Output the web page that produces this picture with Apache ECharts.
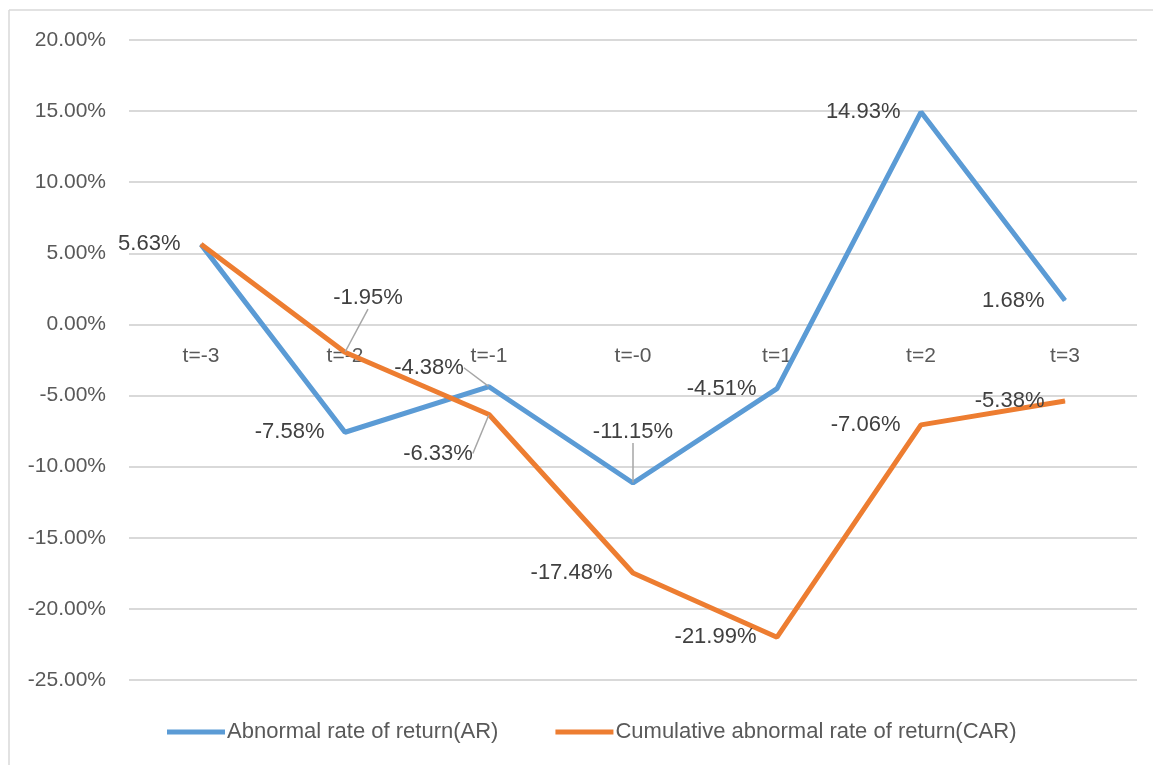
<!DOCTYPE html>
<html>
<head>
<meta charset="utf-8">
<script src="https://cdn.jsdelivr.net/npm/echarts@6/dist/echarts.min.js"></script>
<style>
  html, body { margin: 0; padding: 0; background: #fff; }
  #chart { width: 1153px; height: 765px; }
</style>
</head>
<body>
<div id="chart"></div>
<script>
// 事件窗口
const categories = ['t=-3', 't=-2', 't=-1', 't=-0', 't=1', 't=2', 't=3']
// 异常收益率 AR (%)
const arValues = [5.63, -7.58, -4.38, -11.15, -4.51, 14.93, 1.68]
// 累计异常收益率 CAR (%)
const carValues = [5.63, -1.95, -6.33, -17.48, -21.99, -7.06, -5.38]
const yTicks = { min: -25, max: 20, step: 5 }

// labels moved off the point with a leader line: [dataIndex, dx, dy]
const arMoved = [[2, -60, -19], [3, 0, -51]]
const carMoved = [[1, 23, -54], [2, -51, 39]]

const font = 'Liberation Sans'
const labelColor = '#404040'

const grid = { left: 129, right: 16, top: 40, bottom: 85 }
// category axis sits on the zero line
const plotHeight = 765 - grid.top - grid.bottom
const zeroOffset = -plotHeight * (0 - yTicks.min) / (yTicks.max - yTicks.min)

function buildData(values, moved, hideFirst) {
  return values.map((v, i) => {
    const item = { value: v }
    if (moved.some(m => m[0] === i)) {
      item.label = { position: 'inside' }
      item.labelLine = { show: true }
    }
    if (hideFirst && i === 0) {
      item.label = { show: false }
    }
    return item
  })
}

function layoutFor(moved) {
  return function (params) {
    const m = moved.find(d => d[0] === params.dataIndex)
    if (!m) return {}
    return { dx: m[1], dy: m[2] }
  }
}

const chart = echarts.init(document.getElementById('chart'))

const baseSeries = {
  type: 'line',
  symbol: 'circle',
  symbolSize: 1,
  lineStyle: { width: 5 },
  label: {
    show: true,
    position: 'left',
    distance: 20,
    color: labelColor,
    fontSize: 22,
    fontFamily: font,
    formatter: p => p.value.toFixed(2) + '%'
  },
  labelLine: {
    show: false,
    lineStyle: { color: '#a6a6a6', width: 1.5 }
  },
  emphasis: { disabled: true },
  animation: false
}

const frameStyle = { stroke: '#d9d9d9', lineWidth: 1.5 }

const option = {
  color: ['#5b9bd5', '#ed7d31'],
  textStyle: { fontFamily: font },
  graphic: [
    { type: 'line', shape: { x1: 9, y1: 10, x2: 1153, y2: 10 }, style: frameStyle, silent: true },
    { type: 'line', shape: { x1: 9, y1: 10, x2: 9, y2: 765 }, style: frameStyle, silent: true }
  ],
  grid: grid,
  legend: {
    left: 162,
    bottom: 17,
    icon: 'rect',
    itemWidth: 58,
    itemHeight: 5,
    itemGap: 57,
    textStyle: {
      color: '#595959',
      fontSize: 22,
      fontFamily: font,
      padding: [0, 0, 0, -3]
    },
    data: ['Abnormal rate of return(AR)', 'Cumulative abnormal rate of return(CAR)']
  },
  xAxis: {
    type: 'category',
    boundaryGap: true,
    data: categories,
    offset: zeroOffset,
    axisLine: { show: false, onZero: false },
    axisTick: { show: false },
    axisLabel: {
      color: '#595959',
      fontSize: 21,
      fontFamily: font,
      margin: 21
    }
  },
  yAxis: {
    type: 'value',
    min: yTicks.min,
    max: yTicks.max,
    interval: yTicks.step,
    axisLine: { show: false },
    axisTick: { show: false },
    splitLine: { lineStyle: { color: '#d9d9d9', width: 2 } },
    axisLabel: {
      color: '#595959',
      fontSize: 21,
      fontFamily: font,
      margin: 23,
      formatter: v => v.toFixed(2) + '%'
    }
  },
  series: [
    Object.assign({}, baseSeries, {
      name: 'Abnormal rate of return(AR)',
      data: buildData(arValues, arMoved, false),
      labelLayout: layoutFor(arMoved)
    }),
    Object.assign({}, baseSeries, {
      name: 'Cumulative abnormal rate of return(CAR)',
      data: buildData(carValues, carMoved, true),
      labelLayout: layoutFor(carMoved)
    })
  ]
}

chart.setOption(option)
</script>
</body>
</html>
